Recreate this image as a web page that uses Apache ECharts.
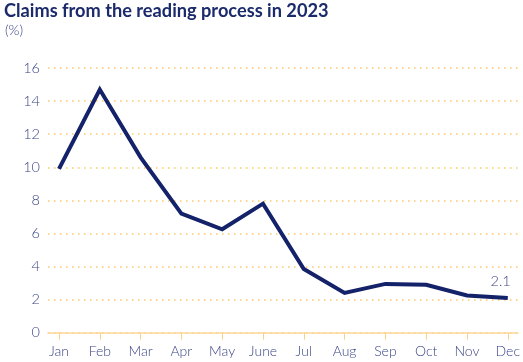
<!DOCTYPE html>
<html>
<head>
<meta charset="utf-8">
<script src="https://cdn.jsdelivr.net/npm/echarts@6/dist/echarts.min.js"></script>
<style>html,body{margin:0;padding:0;background:#fff}#c{width:523px;height:362px}</style>
</head>
<body>
<div id="c"></div>
<script>
var months = ['Jan','Feb','Mar','Apr','May','June','Jul','Aug','Sep','Oct','Nov','Dec'];
var claims = [9.9, 14.7, 10.6, 7.2, 6.25, 7.8, 3.85, 2.4, 2.95, 2.9, 2.25, 2.1];
var yTicks = [0, 2, 4, 6, 8, 10, 12, 14, 16];

var labelColor = '#3a4585';
var navy = '#14226a';
var gold = '#fbc963';
var font = 'Lato';

var chart = echarts.init(document.getElementById('c'), null, {renderer: 'canvas'});
chart.setOption({
  animation: false,
  title: [
    {text: 'Claims from the reading process in 2023', left: -1, top: -3,
     textStyle: {fontFamily: font, fontWeight: 'bold', fontSize: 18.2, color: '#1b2a6b'}},
    {text: '(%)', left: 0, top: 18,
     textStyle: {fontFamily: font, fontWeight: 300, fontSize: 14, color: labelColor}}
  ],
  grid: [
    {left: 48, right: 5, top: 68, bottom: 29.3},
    {left: 59, right: 12.3, top: 68, bottom: 29.3}
  ],
  xAxis: [
    {type: 'value', gridIndex: 0, min: 0, max: 1, show: true,
     axisLine: {show: true, lineStyle: {color: '#fdd89b', width: 1.5}},
     axisTick: {show: false}, axisLabel: {show: false}, splitLine: {show: false}},
    {type: 'category', gridIndex: 1, data: months, boundaryGap: false,
     axisLine: {show: false},
     axisTick: {show: true, length: 7, alignWithLabel: true, lineStyle: {color: '#fdd08a', width: 1}},
     axisLabel: {margin: 12, fontFamily: font, fontWeight: 300, fontSize: 14, color: labelColor},
     splitLine: {show: false}}
  ],
  yAxis: [
    {type: 'value', gridIndex: 0, min: 0, max: 16, interval: 2,
     axisLine: {show: false}, axisTick: {show: false},
     axisLabel: {margin: 8, fontFamily: font, fontWeight: 300, fontSize: 14.5, color: labelColor,
       formatter: function (v) { return yTicks.indexOf(v) >= 0 ? String(v) : ''; }},
     splitLine: {show: true, lineStyle: {color: gold, type: [1.5, 4.5], width: 1.5}}},
    {type: 'value', gridIndex: 1, min: 0, max: 16, show: false}
  ],
  series: [{
    type: 'line', xAxisIndex: 1, yAxisIndex: 1, data: claims,
    symbol: 'none', lineStyle: {color: navy, width: 4, join: 'miter'},
    markPoint: {
      symbol: 'circle', symbolSize: 0, itemStyle: {color: 'rgba(0,0,0,0)'},
      label: {show: true, position: 'top', distance: 9, align: 'right', offset: [3, 0],
        fontFamily: font, fontWeight: 300, fontSize: 14.5, color: labelColor,
        formatter: function (p) { return claims[claims.length - 1].toFixed(1); }},
      data: [{coord: [months.length - 1, claims[claims.length - 1]]}]
    }
  }]
});
</script>
</body>
</html>
